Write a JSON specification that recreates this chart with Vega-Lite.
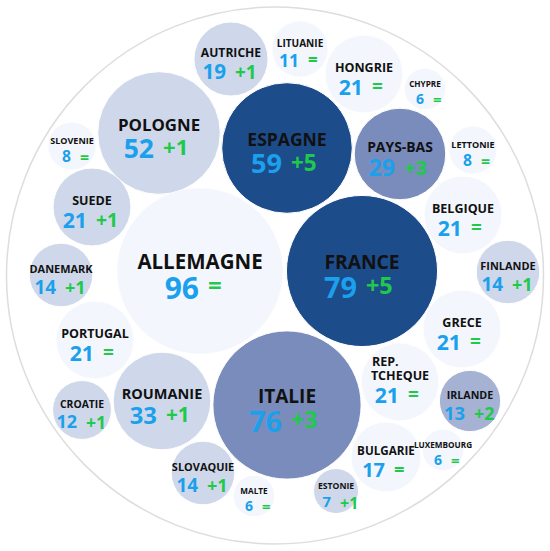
{
  "$schema": "https://vega.github.io/schema/vega-lite/v6.json",
  "width": 550,
  "height": 551,
  "autosize": {"type": "fit", "contains": "padding"},
  "padding": 0,
  "background": "white",
  "config": {"view": {"stroke": null}, "text": {"font": "Open Sans", "fontWeight": "bold"}},
  "data": {
    "values": [
      {"name": "ALLEMAGNE", "value": 96, "delta": 0, "x": 200, "y": 271},
      {"name": "FRANCE", "value": 79, "delta": 5, "x": 362, "y": 271},
      {"name": "ITALIE", "value": 76, "delta": 3, "x": 287, "y": 405},
      {"name": "ESPAGNE", "value": 59, "delta": 5, "x": 287, "y": 148},
      {"name": "POLOGNE", "value": 52, "delta": 1, "x": 159, "y": 133},
      {"name": "ROUMANIE", "value": 33, "delta": 1, "x": 162, "y": 401},
      {"name": "PAYS-BAS", "value": 29, "delta": 3, "x": 400, "y": 154},
      {"name": "BELGIQUE", "value": 21, "delta": 0, "x": 463, "y": 215},
      {"name": "GRECE", "value": 21, "delta": 0, "x": 462, "y": 329},
      {"name": "TCHEQUE", "pre": "REP.", "value": 21, "delta": 0, "x": 400, "y": 382},
      {"name": "PORTUGAL", "value": 21, "delta": 0, "x": 95, "y": 340},
      {"name": "SUEDE", "value": 21, "delta": 1, "x": 92, "y": 207},
      {"name": "HONGRIE", "value": 21, "delta": 0, "x": 364, "y": 74},
      {"name": "AUTRICHE", "value": 19, "delta": 1, "x": 231, "y": 59},
      {"name": "BULGARIE", "value": 17, "delta": 0, "x": 386, "y": 457},
      {"name": "DANEMARK", "value": 14, "delta": 1, "x": 61, "y": 275},
      {"name": "FINLANDE", "value": 14, "delta": 1, "x": 508, "y": 272},
      {"name": "SLOVAQUIE", "value": 14, "delta": 1, "x": 203, "y": 473},
      {"name": "IRLANDE", "value": 13, "delta": 2, "x": 470, "y": 401},
      {"name": "CROATIE", "value": 12, "delta": 1, "x": 82, "y": 410},
      {"name": "LITUANIE", "value": 11, "delta": 0, "x": 300, "y": 49},
      {"name": "SLOVENIE", "value": 8, "delta": 0, "x": 72, "y": 146},
      {"name": "LETTONIE", "value": 8, "delta": 0, "x": 473, "y": 150},
      {"name": "ESTONIE", "value": 7, "delta": 1, "x": 336, "y": 491},
      {"name": "CHYPRE", "value": 6, "delta": 0, "x": 425, "y": 89},
      {"name": "LUXEMBOURG", "value": 6, "delta": 0, "x": 443, "y": 450},
      {"name": "MALTE", "value": 6, "delta": 0, "x": 254, "y": 496}
    ]
  },
  "layer": [
    {
      "data": {"values": [{"ring": "outer"}]},
      "mark": {"type": "arc", "radius": 268.5, "fill": "white", "stroke": "#dddddd", "strokeWidth": 1.5},
      "encoding": {}
    },
    {
      "layer": [
        {
          "mark": {"type": "circle", "opacity": 1, "stroke": "white", "strokeWidth": 1},
          "encoding": {
            "size": {"field": "value", "type": "quantitative", "scale": {"domain": [0, 100], "range": [0, 28900]}, "legend": null},
            "color": {"field": "delta", "type": "ordinal", "scale": {"domain": [0, 1, 2, 3, 5], "range": ["#f3f7fd", "#cfd8ea", "#a5b2d3", "#7a8cbb", "#1d4c8b"]}, "legend": null}
          }
        },
        {
          "mark": {"type": "text", "baseline": "alphabetic", "align": "center", "dy": -2, "color": "#111111"},
          "encoding": {
            "text": {"field": "name"},
            "size": {"field": "value", "type": "quantitative", "scale": {"type": "pow", "exponent": 0.3, "domain": [6, 96], "range": [8.2, 20.5], "zero": false}, "legend": null}
          }
        },
        {
          "transform": [{"filter": "isValid(datum.pre)"}],
          "mark": {"type": "text", "baseline": "alphabetic", "align": "left", "dx": -28, "dy": -16, "fontSize": 12.5, "color": "#111111"},
          "encoding": {"text": {"field": "pre"}}
        },
        {
          "transform": [{"filter": "datum.delta == 0"}],
          "mark": {"type": "text", "baseline": "top", "align": "right", "dx": -1, "dy": 4, "color": "#1aa0ec"},
          "encoding": {
            "text": {"field": "value"},
            "size": {"field": "value", "type": "quantitative", "scale": {"type": "log", "domain": [6, 96], "range": [14, 30], "zero": false}, "legend": null}
          }
        },
        {
          "transform": [{"filter": "datum.delta > 0"}],
          "mark": {"type": "text", "baseline": "top", "align": "right", "dx": -5, "dy": 4, "color": "#1aa0ec"},
          "encoding": {
            "text": {"field": "value"},
            "size": {"field": "value", "type": "quantitative", "scale": {"type": "log", "domain": [6, 96], "range": [14, 30], "zero": false}, "legend": null}
          }
        },
        {
          "transform": [{"filter": "datum.delta == 0"}, {"calculate": "'='", "as": "label"}],
          "mark": {"type": "text", "baseline": "top", "align": "left", "dx": 8, "dy": 4, "color": "#1fc94a"},
          "encoding": {
            "text": {"field": "label"},
            "size": {"field": "value", "type": "quantitative", "scale": {"type": "log", "domain": [6, 96], "range": [15, 24], "zero": false}, "legend": null}
          }
        },
        {
          "transform": [{"filter": "datum.delta > 0"}, {"calculate": "'+' + datum.delta", "as": "label"}],
          "mark": {"type": "text", "baseline": "top", "align": "left", "dx": 4, "dy": 5, "color": "#1fc94a"},
          "encoding": {
            "text": {"field": "label"},
            "size": {"field": "value", "type": "quantitative", "scale": {"type": "log", "domain": [6, 96], "range": [15.5, 24], "zero": false}, "legend": null}
          }
        }
      ],
      "encoding": {
        "x": {"field": "x", "type": "quantitative", "scale": {"domain": [0, 550], "nice": false, "zero": false}, "axis": null},
        "y": {"field": "y", "type": "quantitative", "scale": {"domain": [0, 551], "nice": false, "zero": false, "reverse": true}, "axis": null}
      },
      "resolve": {"scale": {"size": "independent", "color": "independent"}}
    }
  ]
}
